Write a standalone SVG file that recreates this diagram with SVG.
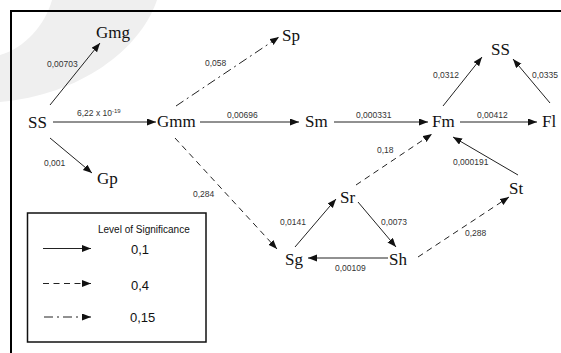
<svg xmlns="http://www.w3.org/2000/svg" width="561" height="353" viewBox="0 0 561 353">
<style>
.n{font-family:"Liberation Serif","Times New Roman",serif;font-size:17px;fill:#111}
.l{font-family:"Liberation Sans",Arial,sans-serif;font-size:8.5px;fill:#333}
.c{stroke:#222;stroke-width:1;fill:none}
.d{stroke-dasharray:6,4.5}
.dd{stroke-dasharray:9,4,2,4}
.lg{font-family:"Liberation Sans",Arial,sans-serif;fill:#111}
</style>
<defs>
<marker id="a" markerUnits="userSpaceOnUse" markerWidth="10" markerHeight="8" refX="9" refY="3.5" orient="auto">
<path d="M0,0 L9,3.5 L0,7 z" fill="#111"/>
</marker>
</defs>
<rect width="561" height="353" fill="#fff"/>
<path d="M52,0 C45,25 25,48 0,55 L0,102 C80,95 140,50 157,0 z" fill="#efefef"/>
<path d="M11,353 V11 H561" stroke="#000" stroke-width="2" fill="none"/>

<g id="connectors">
<line class="c" x1="50" y1="105" x2="100" y2="43" marker-end="url(#a)"/>
<line class="c" x1="53" y1="122" x2="156" y2="122" marker-end="url(#a)"/>
<line class="c" x1="50" y1="138" x2="92" y2="173" marker-end="url(#a)"/>
<line class="c dd" x1="176" y1="106" x2="279" y2="37" marker-end="url(#a)"/>
<line class="c" x1="200" y1="122" x2="299" y2="122" marker-end="url(#a)"/>
<line class="c" x1="334" y1="122" x2="428" y2="122" marker-end="url(#a)"/>
<line class="c d" x1="175" y1="138" x2="277" y2="249" marker-end="url(#a)"/>
<line class="c d" x1="356" y1="185" x2="432" y2="134" marker-end="url(#a)"/>
<line class="c" x1="443" y1="106" x2="482" y2="57" marker-end="url(#a)"/>
<line class="c" x1="550" y1="103" x2="513" y2="59" marker-end="url(#a)"/>
<line class="c" x1="460" y1="122" x2="537" y2="122" marker-end="url(#a)"/>
<line class="c" x1="518" y1="175" x2="453" y2="137" marker-end="url(#a)"/>
<line class="c d" x1="418" y1="257" x2="509" y2="197" marker-end="url(#a)"/>
<line class="c" x1="295" y1="247" x2="336" y2="199" marker-end="url(#a)"/>
<line class="c" x1="358" y1="202" x2="396" y2="247" marker-end="url(#a)"/>
<line class="c" x1="388" y1="258" x2="308" y2="258" marker-end="url(#a)"/>
<text class="l" x="47" y="67">0,00703</text>
<text class="l" x="77" y="116">6,22 x 10<tspan font-size="6" dy="-3">-19</tspan></text>
<text class="l" x="44" y="166">0,001</text>
<text class="l" x="205" y="66">0,058</text>
<text class="l" x="227" y="118">0,00696</text>
<text class="l" x="356" y="118">0,000331</text>
<text class="l" x="193" y="197">0,284</text>
<text class="l" x="377" y="153">0,18</text>
<text class="l" x="433" y="78">0,0312</text>
<text class="l" x="532" y="78">0,0335</text>
<text class="l" x="477" y="118">0,00412</text>
<text class="l" x="453" y="165">0,000191</text>
<text class="l" x="465" y="236">0,288</text>
<text class="l" x="280" y="225">0,0141</text>
<text class="l" x="381" y="225">0,0073</text>
<text class="l" x="335" y="271">0,00109</text>
</g>

<g id="SS1"><text class="n" x="28" y="128">SS</text></g>
<g id="Gmg"><text class="n" x="96" y="38">Gmg</text></g>
<g id="Gp"><text class="n" x="97" y="184">Gp</text></g>
<g id="Gmm"><text class="n" x="157" y="127">Gmm</text></g>
<g id="Sp"><text class="n" x="282" y="41">Sp</text></g>
<g id="Sm"><text class="n" x="305" y="127">Sm</text></g>
<g id="Fm"><text class="n" x="432" y="127">Fm</text></g>
<g id="SS2"><text class="n" x="491" y="55">SS</text></g>
<g id="Fl"><text class="n" x="542" y="127">Fl</text></g>
<g id="St"><text class="n" x="509" y="194">St</text></g>
<g id="Sr"><text class="n" x="340" y="203">Sr</text></g>
<g id="Sg"><text class="n" x="285" y="265">Sg</text></g>
<g id="Sh"><text class="n" x="389" y="265">Sh</text></g>

<g id="legend">
<rect x="27.5" y="213" width="178.5" height="129" fill="none" stroke="#111" stroke-width="1.5"/>
<text class="lg" x="98" y="233" font-size="10">Level of Significance</text>
<line class="c" x1="43" y1="248.5" x2="91" y2="248.5" marker-end="url(#a)"/>
<line class="c d" x1="43" y1="283.5" x2="91" y2="283.5" marker-end="url(#a)"/>
<line class="c dd" x1="44" y1="317" x2="91" y2="317" marker-end="url(#a)"/>
<text class="lg" x="131" y="254" font-size="13">0,1</text>
<text class="lg" x="131" y="290" font-size="13">0,4</text>
<text class="lg" x="130" y="322" font-size="13">0,15</text>
</g>
</svg>
